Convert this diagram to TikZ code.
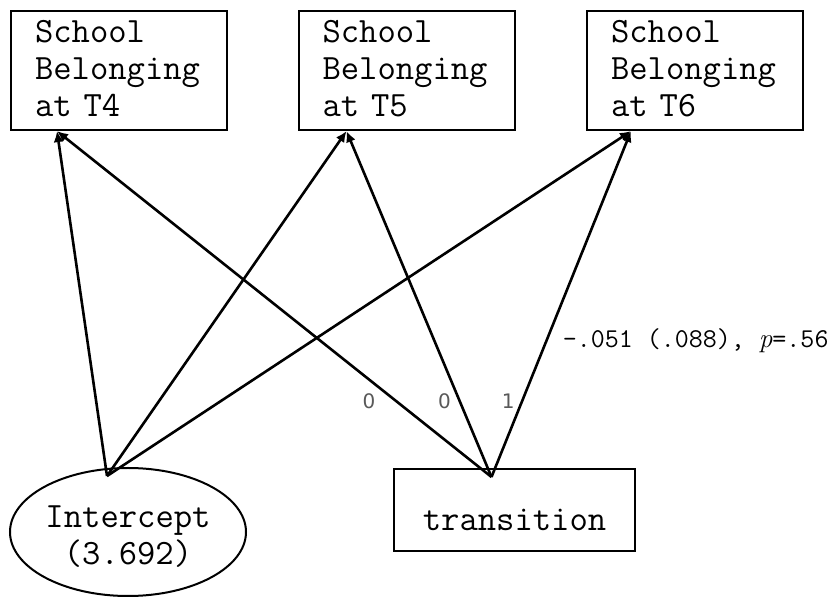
\documentclass[tikz,border=0pt]{standalone}
\usepackage{fontspec}
\newfontfamily\loadfont{DejaVu Sans}
\usetikzlibrary{shapes.geometric,arrows.meta}
\begin{document}
\begin{tikzpicture}[x=0.5pt,y=-0.5pt,
		mono/.style={font=\ttfamily\fontsize{17.8pt}{18.5pt}\selectfont},
		outcome/.style={mono,draw,line width=1pt,text width=84pt,align=left,inner xsep=12pt,inner ysep=0pt,text height=15.6pt,text depth=44pt},
		growth/.style={mono,draw,line width=1pt,ellipse,align=center,inner sep=0pt,minimum width=118pt,minimum height=64pt,text height=35.5pt,text depth=2.5pt},
		covar/.style={mono,draw,line width=1pt,minimum width=120.5pt,inner ysep=0pt,text height=31pt,text depth=10pt},
		path/.style={line width=1.3pt,-{Latex[length=5.5pt,width=5pt]}},
		load/.style={font=\loadfont\fontsize{10pt}{11pt}\selectfont,text=black!65,inner sep=0pt},
		est/.style={font=\ttfamily\fontsize{13.6pt}{15pt}\selectfont,anchor=west,inner sep=0pt}]
	\useasboundingbox (0,0) rectangle (840,597);
	\node[outcome] (t4) at (119,70.5) {School\\Belonging\\at T4};
	\node[outcome] (t5) at (406.5,70.5) {School\\Belonging\\at T5};
	\node[outcome] (t6) at (695,70.5) {School\\Belonging\\at T6};
	\node[growth] (int) at (128,532) {Intercept\\(3.692)};
	\node[covar] (tr) at (514.5,510) {transition};
	\coordinate (int0) at ([xshift=-10.5pt,yshift=-4.5pt]int.north);
	\coordinate (tr0) at ([xshift=-11.5pt,yshift=-4.5pt]tr.north);
	\draw[path] (int0) -- ([xshift=23.5pt]t4.south west);
	\draw[path] (int0) -- ([xshift=24.5pt]t5.south west);
	\draw[path] (int0) -- ([xshift=22.5pt]t6.south west);
	\draw[path] (tr0) -- node[load,pos=0.22,xshift=-13.5pt] {0} ([xshift=23.5pt]t4.south west);
	\draw[path] (tr0) -- node[load,pos=0.22,xshift=-7.5pt] {0} ([xshift=24.5pt]t5.south west);
	\draw[path] (tr0) -- node[load,pos=0.22,xshift=-7pt] {1}
		node[est,pos=0.394,xshift=7.5pt] {-.051 (.088), {\rmfamily\itshape p}=.56} ([xshift=22.5pt]t6.south west);
\end{tikzpicture}
\end{document}
